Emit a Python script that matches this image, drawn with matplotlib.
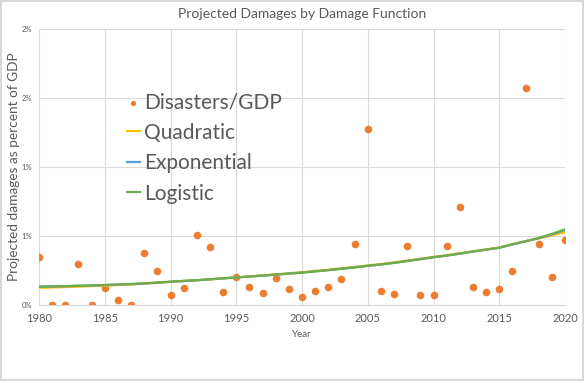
import matplotlib.pyplot as plt
from matplotlib.ticker import FuncFormatter

# data (fraction of GDP)
years = list(range(1980, 2021))
disasters = [0.00348, 0.0, 0.0, 0.00297, 0.0, 0.00123, 0.00036, 0.0, 0.00377, 0.00246,
             0.00072, 0.00123, 0.00507, 0.0042, 0.00094, 0.00203, 0.0013, 0.00087, 0.00196, 0.00116,
             0.00058, 0.00101, 0.0013, 0.00188, 0.00442, 0.01275, 0.00101, 0.0008, 0.0043, 0.00075,
             0.0007, 0.0043, 0.00708, 0.0013, 0.00094, 0.00118, 0.00244, 0.01572, 0.00444, 0.00205,
             0.00469]
logistic = [0.00133, 0.00135, 0.00137, 0.0014, 0.00142, 0.00145, 0.00149, 0.00152, 0.00157, 0.00163,
            0.00169, 0.00175, 0.0018, 0.00186, 0.00193, 0.002, 0.00206, 0.00213, 0.0022, 0.00227,
            0.00234, 0.00243, 0.00252, 0.00262, 0.00272, 0.00283, 0.00293, 0.00305, 0.00318, 0.00332,
            0.00346, 0.00358, 0.00372, 0.00387, 0.00401, 0.00415, 0.0044, 0.00463, 0.00486, 0.00515,
            0.00549]
exponential = [0.00132, 0.00134, 0.00136, 0.00139, 0.00141, 0.00144, 0.00148, 0.00151, 0.00156, 0.00162,
               0.00168, 0.00174, 0.00179, 0.00186, 0.00193, 0.002, 0.00206, 0.00213, 0.0022, 0.00228,
               0.00235, 0.00244, 0.00253, 0.00263, 0.00273, 0.00284, 0.00294, 0.00306, 0.00319, 0.00332,
               0.00346, 0.00358, 0.00372, 0.00387, 0.00401, 0.00415, 0.00439, 0.00461, 0.00484, 0.00511,
               0.00543]
quadratic = [0.00124, 0.00127, 0.0013, 0.00133, 0.00137, 0.0014, 0.00145, 0.00149, 0.00154, 0.0016,
             0.00167, 0.00173, 0.00179, 0.00186, 0.00193, 0.002, 0.00207, 0.00214, 0.00222, 0.0023,
             0.00238, 0.00247, 0.00256, 0.00266, 0.00276, 0.00287, 0.00297, 0.00309, 0.00322, 0.00335,
             0.00349, 0.00361, 0.00375, 0.00389, 0.00403, 0.00416, 0.0044, 0.00461, 0.00482, 0.00504,
             0.00527]

grey = '#595959'
plt.rcParams['font.family'] = ['Lato', 'DejaVu Sans']

fig = plt.figure(figsize=(5.84, 3.81), dpi=100)
fig.patch.set_edgecolor('#d9d9d9')
fig.patch.set_linewidth(1.5)
ax = fig.add_axes([0.0668, 0.1995, 0.9007, 0.7245])

ax.scatter(years, disasters, s=30, color='#ED7D31', label='Disasters/GDP', zorder=2, linewidths=0)
ax.plot(years, quadratic, color='#FFC000', lw=1.6, label='Quadratic', zorder=3)
ax.plot(years, exponential, color='#5B9BD5', lw=1.6, label='Exponential', zorder=4)
ax.plot(years, logistic, color='#70AD47', lw=1.6, label='Logistic', zorder=5)

ax.set_xlim(1980, 2020)
ax.set_ylim(0, 0.02)
ax.set_xticks(range(1980, 2021, 5))
ax.set_yticks([0, 0.005, 0.01, 0.015, 0.02])
ax.yaxis.set_major_formatter(FuncFormatter(lambda v, p: '%d%%' % int(v * 100 + 0.5)))
ax.tick_params(axis='x', colors=grey, labelsize=8, length=0, pad=6)
ax.tick_params(axis='y', colors=grey, labelsize=5.5, length=0, pad=5)
ax.grid(color='#d9d9d9', lw=0.8)
ax.set_axisbelow(True)
for s in ['top', 'right', 'left']:
    ax.spines[s].set_visible(False)
ax.spines['bottom'].set_color('#d9d9d9')

ax.set_title('Projected Damages by Damage Function', color=grey, fontsize=10, pad=8)
ax.set_xlabel('Year', color=grey, fontsize=7, labelpad=4)
ax.set_ylabel('Projected damages as percent of GDP', color=grey, fontsize=9.8)
ax.yaxis.set_label_coords(-0.037, 0.5)

ax.legend(loc='upper left', bbox_to_anchor=(0.2, 0.785), bbox_transform=fig.transFigure,
          frameon=False, fontsize=15, labelcolor=grey, handlelength=0.6, handletextpad=0.2,
          labelspacing=0.5, markerscale=0.7, borderpad=0)

fig.savefig('out.png', dpi=100, edgecolor=fig.get_edgecolor())
